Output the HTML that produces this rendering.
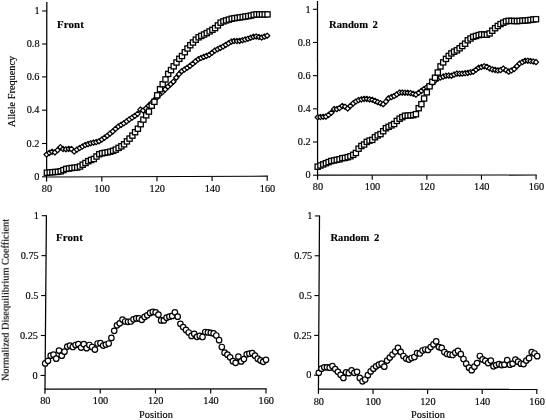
<!DOCTYPE html><html><head><meta charset="utf-8"><title>Figure</title>
<style>html,body{margin:0;padding:0;background:#fff}svg{display:block}text{font-family:"Liberation Serif",serif;fill:#000;stroke:#000;stroke-width:0.15px}</style></head><body>
<svg width="546" height="420" viewBox="0 0 546 420">
<defs><filter id="b" x="0" y="0" width="100%" height="100%" filterUnits="userSpaceOnUse" color-interpolation-filters="sRGB"><feGaussianBlur stdDeviation="0.32"/></filter></defs>
<rect width="546" height="420" fill="#fff"/>
<g filter="url(#b)">
<rect width="546" height="420" fill="#fff"/>
<g stroke="#000" stroke-width="1.25" fill="none" stroke-linecap="butt">
<path d="M46.8 2L46.59 181.6"/>
<path d="M46.1 177.0L267.90000000000003 176.2" stroke-width="1.2"/>
<path d="M42.19 11.0H46.79" stroke-width="1.1"/>
<path d="M42.15 44.0H46.75" stroke-width="1.1"/>
<path d="M42.11 76.9H46.71" stroke-width="1.1"/>
<path d="M42.08 110.2H46.68" stroke-width="1.1"/>
<path d="M42.04 143.5H46.64" stroke-width="1.1"/>
<path d="M42.00 176.8H46.60" stroke-width="1.1"/>
<path d="M101.83000000000001 176.8V181.4" stroke-width="1.15"/>
<path d="M156.96 176.6V181.2" stroke-width="1.15"/>
<path d="M212.09000000000003 176.4V181.0" stroke-width="1.15"/>
<path d="M267.22 176.2V180.8" stroke-width="1.15"/>
</g>
<text x="39.6" y="14.2" font-size="10.3" text-anchor="end">1</text>
<text x="39.6" y="47.2" font-size="10.3" text-anchor="end">0.8</text>
<text x="39.5" y="80.1" font-size="10.3" text-anchor="end">0.6</text>
<text x="39.5" y="113.4" font-size="10.3" text-anchor="end">0.4</text>
<text x="39.4" y="146.7" font-size="10.3" text-anchor="end">0.2</text>
<text x="39.4" y="180.0" font-size="10.3" text-anchor="end">0</text>
<text x="47.0" y="192.2" font-size="10.3" text-anchor="middle">80</text>
<text x="102.1" y="192.2" font-size="10.3" text-anchor="middle">100</text>
<text x="157.3" y="192.2" font-size="10.3" text-anchor="middle">120</text>
<text x="212.4" y="192.2" font-size="10.3" text-anchor="middle">140</text>
<text x="267.5" y="192.2" font-size="10.3" text-anchor="middle">160</text>
<g fill="#fff" stroke="#000" stroke-width="1.25" stroke-linejoin="round">
<path d="M44.0 154.5L46.6 151.9L49.2 154.5L46.6 157.1Z"/>
<path d="M46.8 152.9L49.4 150.3L52.0 152.9L49.4 155.5Z"/>
<path d="M49.5 151.8L52.1 149.2L54.7 151.8L52.1 154.4Z"/>
<path d="M52.3 152.4L54.9 149.8L57.5 152.4L54.9 155.0Z"/>
<path d="M55.0 150.1L57.6 147.5L60.2 150.1L57.6 152.7Z"/>
<path d="M57.8 147.2L60.4 144.6L63.0 147.2L60.4 149.8Z"/>
<path d="M60.5 149.0L63.1 146.4L65.7 149.0L63.1 151.6Z"/>
<path d="M63.3 149.2L65.9 146.6L68.5 149.2L65.9 151.8Z"/>
<path d="M66.1 148.9L68.7 146.3L71.3 148.9L68.7 151.5Z"/>
<path d="M68.8 149.0L71.4 146.4L74.0 149.0L71.4 151.6Z"/>
<path d="M71.6 151.5L74.2 148.9L76.8 151.5L74.2 154.1Z"/>
<path d="M74.3 149.6L76.9 147.0L79.5 149.6L76.9 152.2Z"/>
<path d="M77.1 148.0L79.7 145.4L82.3 148.0L79.7 150.6Z"/>
<path d="M79.8 146.5L82.4 143.9L85.0 146.5L82.4 149.1Z"/>
<path d="M82.6 145.0L85.2 142.4L87.8 145.0L85.2 147.6Z"/>
<path d="M85.4 144.1L88.0 141.5L90.6 144.1L88.0 146.7Z"/>
<path d="M88.1 143.2L90.7 140.6L93.3 143.2L90.7 145.8Z"/>
<path d="M90.9 142.6L93.5 140.0L96.1 142.6L93.5 145.2Z"/>
<path d="M93.6 142.1L96.2 139.5L98.8 142.1L96.2 144.7Z"/>
<path d="M96.4 141.2L99.0 138.6L101.6 141.2L99.0 143.8Z"/>
<path d="M99.2 139.5L101.8 136.9L104.3 139.5L101.8 142.1Z"/>
<path d="M101.9 137.8L104.5 135.2L107.1 137.8L104.5 140.4Z"/>
<path d="M104.7 135.7L107.3 133.1L109.9 135.7L107.3 138.3Z"/>
<path d="M107.4 133.6L110.0 131.0L112.6 133.6L110.0 136.2Z"/>
<path d="M110.2 131.4L112.8 128.8L115.4 131.4L112.8 134.0Z"/>
<path d="M112.9 128.9L115.5 126.3L118.1 128.9L115.5 131.5Z"/>
<path d="M115.7 126.5L118.3 123.9L120.9 126.5L118.3 129.1Z"/>
<path d="M118.5 124.9L121.1 122.3L123.7 124.9L121.1 127.5Z"/>
<path d="M121.2 123.3L123.8 120.7L126.4 123.3L123.8 125.9Z"/>
<path d="M124.0 121.4L126.6 118.8L129.2 121.4L126.6 124.0Z"/>
<path d="M126.7 119.4L129.3 116.8L131.9 119.4L129.3 122.0Z"/>
<path d="M129.5 117.6L132.1 115.0L134.7 117.6L132.1 120.2Z"/>
<path d="M132.2 115.9L134.8 113.3L137.4 115.9L134.8 118.5Z"/>
<path d="M135.0 113.9L137.6 111.3L140.2 113.9L137.6 116.5Z"/>
<path d="M137.8 109.6L140.4 107.0L143.0 109.6L140.4 112.2Z"/>
<path d="M140.5 110.5L143.1 107.9L145.7 110.5L143.1 113.1Z"/>
<path d="M143.3 108.5L145.9 105.9L148.5 108.5L145.9 111.1Z"/>
<path d="M146.0 105.8L148.6 103.2L151.2 105.8L148.6 108.4Z"/>
<path d="M148.8 103.1L151.4 100.5L154.0 103.1L151.4 105.7Z"/>
<path d="M151.5 100.4L154.1 97.8L156.7 100.4L154.1 103.0Z"/>
<path d="M154.3 97.5L156.9 94.9L159.5 97.5L156.9 100.1Z"/>
<path d="M157.1 94.3L159.7 91.7L162.3 94.3L159.7 96.9Z"/>
<path d="M159.8 92.1L162.4 89.5L165.0 92.1L162.4 94.7Z"/>
<path d="M162.6 89.4L165.2 86.8L167.8 89.4L165.2 92.0Z"/>
<path d="M165.3 86.7L167.9 84.1L170.5 86.7L167.9 89.3Z"/>
<path d="M168.1 84.2L170.7 81.6L173.3 84.2L170.7 86.8Z"/>
<path d="M170.8 81.7L173.4 79.1L176.0 81.7L173.4 84.3Z"/>
<path d="M173.6 77.7L176.2 75.1L178.8 77.7L176.2 80.3Z"/>
<path d="M176.4 74.1L179.0 71.5L181.6 74.1L179.0 76.7Z"/>
<path d="M179.1 71.2L181.7 68.6L184.3 71.2L181.7 73.8Z"/>
<path d="M181.9 69.5L184.5 66.9L187.1 69.5L184.5 72.1Z"/>
<path d="M184.6 67.8L187.2 65.2L189.8 67.8L187.2 70.4Z"/>
<path d="M187.4 65.9L190.0 63.3L192.6 65.9L190.0 68.5Z"/>
<path d="M190.1 63.8L192.7 61.2L195.3 63.8L192.7 66.4Z"/>
<path d="M192.9 61.4L195.5 58.8L198.1 61.4L195.5 64.0Z"/>
<path d="M195.7 59.2L198.3 56.6L200.9 59.2L198.3 61.8Z"/>
<path d="M198.4 58.0L201.0 55.4L203.6 58.0L201.0 60.6Z"/>
<path d="M201.2 56.9L203.8 54.3L206.4 56.9L203.8 59.5Z"/>
<path d="M203.9 55.9L206.5 53.3L209.1 55.9L206.5 58.5Z"/>
<path d="M206.7 54.8L209.3 52.2L211.9 54.8L209.3 57.4Z"/>
<path d="M209.4 52.8L212.0 50.2L214.6 52.8L212.0 55.4Z"/>
<path d="M212.2 50.6L214.8 48.0L217.4 50.6L214.8 53.2Z"/>
<path d="M215.0 49.2L217.6 46.6L220.2 49.2L217.6 51.8Z"/>
<path d="M217.7 47.9L220.3 45.3L222.9 47.9L220.3 50.5Z"/>
<path d="M220.5 46.5L223.1 43.9L225.7 46.5L223.1 49.1Z"/>
<path d="M223.2 44.9L225.8 42.3L228.4 44.9L225.8 47.5Z"/>
<path d="M226.0 43.3L228.6 40.7L231.2 43.3L228.6 45.9Z"/>
<path d="M228.8 41.6L231.4 39.0L234.0 41.6L231.4 44.2Z"/>
<path d="M231.5 41.0L234.1 38.4L236.7 41.0L234.1 43.6Z"/>
<path d="M234.3 41.0L236.9 38.4L239.5 41.0L236.9 43.6Z"/>
<path d="M237.0 40.9L239.6 38.3L242.2 40.9L239.6 43.5Z"/>
<path d="M239.8 40.2L242.4 37.6L245.0 40.2L242.4 42.8Z"/>
<path d="M242.5 39.5L245.1 36.9L247.7 39.5L245.1 42.1Z"/>
<path d="M245.3 38.7L247.9 36.1L250.5 38.7L247.9 41.3Z"/>
<path d="M248.1 37.7L250.7 35.1L253.3 37.7L250.7 40.3Z"/>
<path d="M250.8 36.8L253.4 34.2L256.0 36.8L253.4 39.4Z"/>
<path d="M253.6 36.5L256.2 33.9L258.8 36.5L256.2 39.1Z"/>
<path d="M256.3 37.0L258.9 34.4L261.5 37.0L258.9 39.6Z"/>
<path d="M259.1 37.5L261.7 34.9L264.3 37.5L261.7 40.1Z"/>
<path d="M261.8 36.6L264.4 34.0L267.0 36.6L264.4 39.2Z"/>
<path d="M264.6 35.7L267.2 33.1L269.8 35.7L267.2 38.3Z"/>
</g>
<g fill="#fff" stroke="#000" stroke-width="1.3">
<rect x="44.3" y="170.1" width="5.2" height="5.2"/>
<rect x="47.1" y="169.8" width="5.2" height="5.2"/>
<rect x="49.8" y="169.6" width="5.2" height="5.2"/>
<rect x="52.6" y="169.4" width="5.2" height="5.2"/>
<rect x="55.3" y="169.2" width="5.2" height="5.2"/>
<rect x="58.1" y="168.7" width="5.2" height="5.2"/>
<rect x="60.8" y="167.5" width="5.2" height="5.2"/>
<rect x="63.6" y="166.3" width="5.2" height="5.2"/>
<rect x="66.4" y="165.9" width="5.2" height="5.2"/>
<rect x="69.1" y="165.4" width="5.2" height="5.2"/>
<rect x="71.9" y="165.1" width="5.2" height="5.2"/>
<rect x="74.6" y="164.9" width="5.2" height="5.2"/>
<rect x="77.4" y="163.9" width="5.2" height="5.2"/>
<rect x="80.1" y="162.1" width="5.2" height="5.2"/>
<rect x="82.9" y="160.4" width="5.2" height="5.2"/>
<rect x="85.7" y="158.6" width="5.2" height="5.2"/>
<rect x="88.4" y="157.4" width="5.2" height="5.2"/>
<rect x="91.2" y="156.4" width="5.2" height="5.2"/>
<rect x="93.9" y="153.9" width="5.2" height="5.2"/>
<rect x="96.7" y="151.6" width="5.2" height="5.2"/>
<rect x="99.5" y="150.7" width="5.2" height="5.2"/>
<rect x="102.2" y="150.2" width="5.2" height="5.2"/>
<rect x="105.0" y="149.7" width="5.2" height="5.2"/>
<rect x="107.7" y="149.1" width="5.2" height="5.2"/>
<rect x="110.5" y="148.2" width="5.2" height="5.2"/>
<rect x="113.2" y="147.0" width="5.2" height="5.2"/>
<rect x="116.0" y="145.3" width="5.2" height="5.2"/>
<rect x="118.8" y="143.7" width="5.2" height="5.2"/>
<rect x="121.5" y="141.7" width="5.2" height="5.2"/>
<rect x="124.3" y="138.8" width="5.2" height="5.2"/>
<rect x="127.0" y="136.0" width="5.2" height="5.2"/>
<rect x="129.8" y="133.0" width="5.2" height="5.2"/>
<rect x="132.5" y="129.6" width="5.2" height="5.2"/>
<rect x="135.3" y="126.1" width="5.2" height="5.2"/>
<rect x="138.1" y="121.6" width="5.2" height="5.2"/>
<rect x="140.8" y="117.0" width="5.2" height="5.2"/>
<rect x="143.6" y="112.7" width="5.2" height="5.2"/>
<rect x="146.3" y="109.0" width="5.2" height="5.2"/>
<rect x="149.1" y="103.1" width="5.2" height="5.2"/>
<rect x="151.8" y="99.2" width="5.2" height="5.2"/>
<rect x="154.6" y="92.7" width="5.2" height="5.2"/>
<rect x="157.4" y="86.6" width="5.2" height="5.2"/>
<rect x="160.1" y="81.6" width="5.2" height="5.2"/>
<rect x="162.9" y="76.8" width="5.2" height="5.2"/>
<rect x="165.6" y="71.3" width="5.2" height="5.2"/>
<rect x="168.4" y="67.5" width="5.2" height="5.2"/>
<rect x="171.1" y="63.7" width="5.2" height="5.2"/>
<rect x="173.9" y="59.9" width="5.2" height="5.2"/>
<rect x="176.7" y="56.2" width="5.2" height="5.2"/>
<rect x="179.4" y="53.4" width="5.2" height="5.2"/>
<rect x="182.2" y="49.6" width="5.2" height="5.2"/>
<rect x="184.9" y="45.9" width="5.2" height="5.2"/>
<rect x="187.7" y="42.6" width="5.2" height="5.2"/>
<rect x="190.4" y="39.9" width="5.2" height="5.2"/>
<rect x="193.2" y="37.1" width="5.2" height="5.2"/>
<rect x="196.0" y="34.7" width="5.2" height="5.2"/>
<rect x="198.7" y="33.3" width="5.2" height="5.2"/>
<rect x="201.5" y="31.9" width="5.2" height="5.2"/>
<rect x="204.2" y="30.5" width="5.2" height="5.2"/>
<rect x="207.0" y="28.8" width="5.2" height="5.2"/>
<rect x="209.8" y="27.2" width="5.2" height="5.2"/>
<rect x="212.5" y="25.5" width="5.2" height="5.2"/>
<rect x="215.3" y="22.8" width="5.2" height="5.2"/>
<rect x="218.0" y="20.1" width="5.2" height="5.2"/>
<rect x="220.8" y="18.8" width="5.2" height="5.2"/>
<rect x="223.5" y="17.8" width="5.2" height="5.2"/>
<rect x="226.3" y="17.0" width="5.2" height="5.2"/>
<rect x="229.1" y="16.1" width="5.2" height="5.2"/>
<rect x="231.8" y="15.6" width="5.2" height="5.2"/>
<rect x="234.6" y="15.2" width="5.2" height="5.2"/>
<rect x="237.3" y="14.8" width="5.2" height="5.2"/>
<rect x="240.1" y="14.4" width="5.2" height="5.2"/>
<rect x="242.8" y="13.9" width="5.2" height="5.2"/>
<rect x="245.6" y="13.5" width="5.2" height="5.2"/>
<rect x="248.4" y="13.0" width="5.2" height="5.2"/>
<rect x="251.1" y="12.2" width="5.2" height="5.2"/>
<rect x="253.9" y="11.8" width="5.2" height="5.2"/>
<rect x="256.6" y="11.8" width="5.2" height="5.2"/>
<rect x="259.4" y="11.8" width="5.2" height="5.2"/>
<rect x="262.1" y="11.8" width="5.2" height="5.2"/>
<rect x="264.9" y="11.8" width="5.2" height="5.2"/>
</g>
<text x="57" y="27.8" font-size="10.9" font-weight="bold" letter-spacing="0.1">Front</text>
<text transform="translate(15.3 91.4) rotate(-90)" font-size="10.3" text-anchor="middle">Allele Frequency</text>
<g stroke="#000" stroke-width="1.25" fill="none" stroke-linecap="butt">
<path d="M317.5 1L317.60 179.8"/>
<path d="M317.1 175.2L536.7 175.0" stroke-width="1.2"/>
<path d="M312.90 9.3H317.50" stroke-width="1.1"/>
<path d="M312.92 42.480000000000004H317.52" stroke-width="1.1"/>
<path d="M312.94 75.66H317.54" stroke-width="1.1"/>
<path d="M312.96 108.83999999999999H317.56" stroke-width="1.1"/>
<path d="M312.98 142.02H317.58" stroke-width="1.1"/>
<path d="M313.00 175.20000000000002H317.60" stroke-width="1.1"/>
<path d="M372.22 175.2V179.8" stroke-width="1.15"/>
<path d="M426.84000000000003 175.1V179.7" stroke-width="1.15"/>
<path d="M481.46000000000004 175.1V179.7" stroke-width="1.15"/>
<path d="M536.08 175.0V179.6" stroke-width="1.15"/>
</g>
<text x="310.6" y="12.5" font-size="10.3" text-anchor="end">1</text>
<text x="310.6" y="45.7" font-size="10.3" text-anchor="end">0.8</text>
<text x="310.6" y="78.9" font-size="10.3" text-anchor="end">0.6</text>
<text x="310.7" y="112.0" font-size="10.3" text-anchor="end">0.4</text>
<text x="310.7" y="145.2" font-size="10.3" text-anchor="end">0.2</text>
<text x="310.7" y="178.4" font-size="10.3" text-anchor="end">0</text>
<text x="317.9" y="189.8" font-size="10.3" text-anchor="middle">80</text>
<text x="372.5" y="189.8" font-size="10.3" text-anchor="middle">100</text>
<text x="427.1" y="189.8" font-size="10.3" text-anchor="middle">120</text>
<text x="481.8" y="189.8" font-size="10.3" text-anchor="middle">140</text>
<text x="536.4" y="189.8" font-size="10.3" text-anchor="middle">160</text>
<g fill="#fff" stroke="#000" stroke-width="1.25" stroke-linejoin="round">
<path d="M315.1 117.2L317.7 114.6L320.3 117.2L317.7 119.8Z"/>
<path d="M317.8 117.0L320.4 114.4L323.0 117.0L320.4 119.6Z"/>
<path d="M320.6 116.8L323.2 114.2L325.8 116.8L323.2 119.4Z"/>
<path d="M323.3 116.6L325.9 114.0L328.5 116.6L325.9 119.2Z"/>
<path d="M326.0 114.9L328.6 112.3L331.2 114.9L328.6 117.5Z"/>
<path d="M328.7 112.8L331.3 110.2L333.9 112.8L331.3 115.4Z"/>
<path d="M331.5 109.1L334.1 106.5L336.7 109.1L334.1 111.7Z"/>
<path d="M334.2 109.1L336.8 106.5L339.4 109.1L336.8 111.7Z"/>
<path d="M336.9 108.0L339.5 105.4L342.1 108.0L339.5 110.6Z"/>
<path d="M339.7 106.0L342.3 103.4L344.9 106.0L342.3 108.6Z"/>
<path d="M342.4 106.7L345.0 104.1L347.6 106.7L345.0 109.3Z"/>
<path d="M345.1 108.5L347.7 105.9L350.3 108.5L347.7 111.1Z"/>
<path d="M347.8 105.9L350.4 103.3L353.0 105.9L350.4 108.5Z"/>
<path d="M350.6 103.4L353.2 100.8L355.8 103.4L353.2 106.0Z"/>
<path d="M353.3 101.5L355.9 98.9L358.5 101.5L355.9 104.1Z"/>
<path d="M356.0 100.1L358.6 97.5L361.2 100.1L358.6 102.7Z"/>
<path d="M358.8 99.4L361.4 96.8L364.0 99.4L361.4 102.0Z"/>
<path d="M361.5 98.9L364.1 96.3L366.7 98.9L364.1 101.5Z"/>
<path d="M364.2 98.9L366.8 96.3L369.4 98.9L366.8 101.5Z"/>
<path d="M366.9 99.4L369.5 96.8L372.1 99.4L369.5 102.0Z"/>
<path d="M369.7 99.8L372.3 97.2L374.9 99.8L372.3 102.4Z"/>
<path d="M372.4 100.9L375.0 98.3L377.6 100.9L375.0 103.5Z"/>
<path d="M375.1 102.1L377.7 99.5L380.3 102.1L377.7 104.7Z"/>
<path d="M377.9 103.2L380.5 100.6L383.1 103.2L380.5 105.8Z"/>
<path d="M380.6 104.2L383.2 101.6L385.8 104.2L383.2 106.8Z"/>
<path d="M383.3 101.6L385.9 99.0L388.5 101.6L385.9 104.2Z"/>
<path d="M386.0 98.3L388.6 95.7L391.2 98.3L388.6 100.9Z"/>
<path d="M388.8 97.1L391.4 94.5L394.0 97.1L391.4 99.7Z"/>
<path d="M391.5 96.0L394.1 93.4L396.7 96.0L394.1 98.6Z"/>
<path d="M394.2 94.4L396.8 91.8L399.4 94.4L396.8 97.0Z"/>
<path d="M397.0 92.6L399.6 90.0L402.2 92.6L399.6 95.2Z"/>
<path d="M399.7 92.6L402.3 90.0L404.9 92.6L402.3 95.2Z"/>
<path d="M402.4 92.7L405.0 90.1L407.6 92.7L405.0 95.3Z"/>
<path d="M405.1 92.8L407.7 90.2L410.3 92.8L407.7 95.4Z"/>
<path d="M407.9 93.1L410.5 90.5L413.1 93.1L410.5 95.7Z"/>
<path d="M410.6 93.8L413.2 91.2L415.8 93.8L413.2 96.4Z"/>
<path d="M413.3 94.6L415.9 92.0L418.5 94.6L415.9 97.2Z"/>
<path d="M416.1 92.8L418.7 90.2L421.3 92.8L418.7 95.4Z"/>
<path d="M418.8 90.9L421.4 88.3L424.0 90.9L421.4 93.5Z"/>
<path d="M421.5 89.0L424.1 86.4L426.7 89.0L424.1 91.6Z"/>
<path d="M424.2 87.2L426.8 84.6L429.4 87.2L426.8 89.8Z"/>
<path d="M427.0 85.2L429.6 82.6L432.2 85.2L429.6 87.8Z"/>
<path d="M429.7 83.0L432.3 80.4L434.9 83.0L432.3 85.6Z"/>
<path d="M432.4 80.8L435.0 78.2L437.6 80.8L435.0 83.4Z"/>
<path d="M435.2 78.6L437.8 76.0L440.4 78.6L437.8 81.2Z"/>
<path d="M437.9 77.5L440.5 74.9L443.1 77.5L440.5 80.1Z"/>
<path d="M440.6 76.6L443.2 74.0L445.8 76.6L443.2 79.2Z"/>
<path d="M443.4 75.7L446.0 73.1L448.6 75.7L446.0 78.3Z"/>
<path d="M446.1 75.6L448.7 73.0L451.3 75.6L448.7 78.2Z"/>
<path d="M448.8 75.7L451.4 73.1L454.0 75.7L451.4 78.3Z"/>
<path d="M451.5 74.6L454.1 72.0L456.7 74.6L454.1 77.2Z"/>
<path d="M454.3 73.6L456.9 71.0L459.5 73.6L456.9 76.2Z"/>
<path d="M457.0 73.7L459.6 71.1L462.2 73.7L459.6 76.3Z"/>
<path d="M459.7 73.6L462.3 71.0L464.9 73.6L462.3 76.2Z"/>
<path d="M462.5 73.3L465.1 70.7L467.7 73.3L465.1 75.9Z"/>
<path d="M465.2 72.9L467.8 70.3L470.4 72.9L467.8 75.5Z"/>
<path d="M467.9 72.2L470.5 69.6L473.1 72.2L470.5 74.8Z"/>
<path d="M470.6 71.8L473.2 69.2L475.8 71.8L473.2 74.4Z"/>
<path d="M473.4 69.8L476.0 67.2L478.6 69.8L476.0 72.4Z"/>
<path d="M476.1 67.8L478.7 65.2L481.3 67.8L478.7 70.4Z"/>
<path d="M478.8 67.0L481.4 64.4L484.0 67.0L481.4 69.6Z"/>
<path d="M481.6 66.2L484.2 63.6L486.8 66.2L484.2 68.8Z"/>
<path d="M484.3 66.9L486.9 64.3L489.5 66.9L486.9 69.5Z"/>
<path d="M487.0 68.4L489.6 65.8L492.2 68.4L489.6 71.0Z"/>
<path d="M489.7 69.4L492.3 66.8L494.9 69.4L492.3 72.0Z"/>
<path d="M492.5 69.9L495.1 67.3L497.7 69.9L495.1 72.5Z"/>
<path d="M495.2 70.4L497.8 67.8L500.4 70.4L497.8 73.0Z"/>
<path d="M497.9 70.1L500.5 67.5L503.1 70.1L500.5 72.7Z"/>
<path d="M500.7 68.6L503.3 66.0L505.9 68.6L503.3 71.2Z"/>
<path d="M503.4 70.2L506.0 67.6L508.6 70.2L506.0 72.8Z"/>
<path d="M506.1 71.6L508.7 69.0L511.3 71.6L508.7 74.2Z"/>
<path d="M508.8 70.5L511.4 67.9L514.0 70.5L511.4 73.1Z"/>
<path d="M511.6 69.0L514.2 66.4L516.8 69.0L514.2 71.6Z"/>
<path d="M514.3 66.2L516.9 63.6L519.5 66.2L516.9 68.8Z"/>
<path d="M517.0 63.5L519.6 60.9L522.2 63.5L519.6 66.1Z"/>
<path d="M519.8 62.1L522.4 59.5L525.0 62.1L522.4 64.7Z"/>
<path d="M522.5 60.8L525.1 58.2L527.7 60.8L525.1 63.4Z"/>
<path d="M525.2 60.7L527.8 58.1L530.4 60.7L527.8 63.3Z"/>
<path d="M527.9 61.0L530.5 58.4L533.1 61.0L530.5 63.6Z"/>
<path d="M530.7 61.5L533.3 58.9L535.9 61.5L533.3 64.1Z"/>
<path d="M533.4 62.1L536.0 59.5L538.6 62.1L536.0 64.7Z"/>
</g>
<g fill="#fff" stroke="#000" stroke-width="1.3">
<rect x="315.1" y="164.1" width="5.2" height="5.2"/>
<rect x="317.8" y="162.9" width="5.2" height="5.2"/>
<rect x="320.6" y="161.8" width="5.2" height="5.2"/>
<rect x="323.3" y="160.6" width="5.2" height="5.2"/>
<rect x="326.0" y="159.5" width="5.2" height="5.2"/>
<rect x="328.7" y="158.4" width="5.2" height="5.2"/>
<rect x="331.5" y="157.8" width="5.2" height="5.2"/>
<rect x="334.2" y="157.2" width="5.2" height="5.2"/>
<rect x="336.9" y="156.7" width="5.2" height="5.2"/>
<rect x="339.7" y="155.6" width="5.2" height="5.2"/>
<rect x="342.4" y="155.3" width="5.2" height="5.2"/>
<rect x="345.1" y="154.6" width="5.2" height="5.2"/>
<rect x="347.8" y="153.7" width="5.2" height="5.2"/>
<rect x="350.6" y="152.2" width="5.2" height="5.2"/>
<rect x="353.3" y="150.4" width="5.2" height="5.2"/>
<rect x="356.0" y="146.1" width="5.2" height="5.2"/>
<rect x="358.8" y="143.4" width="5.2" height="5.2"/>
<rect x="361.5" y="141.9" width="5.2" height="5.2"/>
<rect x="364.2" y="139.3" width="5.2" height="5.2"/>
<rect x="366.9" y="138.0" width="5.2" height="5.2"/>
<rect x="369.7" y="137.3" width="5.2" height="5.2"/>
<rect x="372.4" y="134.6" width="5.2" height="5.2"/>
<rect x="375.1" y="132.8" width="5.2" height="5.2"/>
<rect x="377.9" y="131.5" width="5.2" height="5.2"/>
<rect x="380.6" y="128.6" width="5.2" height="5.2"/>
<rect x="383.3" y="125.6" width="5.2" height="5.2"/>
<rect x="386.0" y="124.2" width="5.2" height="5.2"/>
<rect x="388.8" y="122.8" width="5.2" height="5.2"/>
<rect x="391.5" y="121.4" width="5.2" height="5.2"/>
<rect x="394.2" y="118.3" width="5.2" height="5.2"/>
<rect x="397.0" y="116.1" width="5.2" height="5.2"/>
<rect x="399.7" y="114.6" width="5.2" height="5.2"/>
<rect x="402.4" y="113.2" width="5.2" height="5.2"/>
<rect x="405.1" y="112.9" width="5.2" height="5.2"/>
<rect x="407.9" y="112.8" width="5.2" height="5.2"/>
<rect x="410.6" y="112.5" width="5.2" height="5.2"/>
<rect x="413.3" y="111.6" width="5.2" height="5.2"/>
<rect x="416.1" y="105.6" width="5.2" height="5.2"/>
<rect x="418.8" y="101.6" width="5.2" height="5.2"/>
<rect x="421.5" y="95.9" width="5.2" height="5.2"/>
<rect x="424.2" y="89.7" width="5.2" height="5.2"/>
<rect x="427.0" y="83.7" width="5.2" height="5.2"/>
<rect x="429.7" y="79.2" width="5.2" height="5.2"/>
<rect x="432.4" y="75.1" width="5.2" height="5.2"/>
<rect x="435.2" y="69.9" width="5.2" height="5.2"/>
<rect x="437.9" y="63.8" width="5.2" height="5.2"/>
<rect x="440.6" y="59.8" width="5.2" height="5.2"/>
<rect x="443.4" y="56.3" width="5.2" height="5.2"/>
<rect x="446.1" y="53.3" width="5.2" height="5.2"/>
<rect x="448.8" y="50.8" width="5.2" height="5.2"/>
<rect x="451.5" y="49.1" width="5.2" height="5.2"/>
<rect x="454.3" y="47.7" width="5.2" height="5.2"/>
<rect x="457.0" y="45.7" width="5.2" height="5.2"/>
<rect x="459.7" y="43.4" width="5.2" height="5.2"/>
<rect x="462.5" y="41.1" width="5.2" height="5.2"/>
<rect x="465.2" y="37.7" width="5.2" height="5.2"/>
<rect x="467.9" y="35.9" width="5.2" height="5.2"/>
<rect x="470.6" y="34.2" width="5.2" height="5.2"/>
<rect x="473.4" y="33.4" width="5.2" height="5.2"/>
<rect x="476.1" y="32.5" width="5.2" height="5.2"/>
<rect x="478.8" y="31.8" width="5.2" height="5.2"/>
<rect x="481.6" y="32.0" width="5.2" height="5.2"/>
<rect x="484.3" y="32.1" width="5.2" height="5.2"/>
<rect x="487.0" y="30.8" width="5.2" height="5.2"/>
<rect x="489.7" y="28.1" width="5.2" height="5.2"/>
<rect x="492.5" y="25.6" width="5.2" height="5.2"/>
<rect x="495.2" y="23.4" width="5.2" height="5.2"/>
<rect x="497.9" y="21.5" width="5.2" height="5.2"/>
<rect x="500.7" y="20.1" width="5.2" height="5.2"/>
<rect x="503.4" y="18.8" width="5.2" height="5.2"/>
<rect x="506.1" y="18.2" width="5.2" height="5.2"/>
<rect x="508.8" y="18.3" width="5.2" height="5.2"/>
<rect x="511.6" y="18.4" width="5.2" height="5.2"/>
<rect x="514.3" y="18.5" width="5.2" height="5.2"/>
<rect x="517.0" y="18.3" width="5.2" height="5.2"/>
<rect x="519.8" y="18.1" width="5.2" height="5.2"/>
<rect x="522.5" y="17.9" width="5.2" height="5.2"/>
<rect x="525.2" y="17.7" width="5.2" height="5.2"/>
<rect x="527.9" y="17.3" width="5.2" height="5.2"/>
<rect x="530.7" y="16.9" width="5.2" height="5.2"/>
<rect x="533.4" y="16.6" width="5.2" height="5.2"/>
</g>
<text x="329.0" y="27.5" font-size="10.65" font-weight="bold" style="word-spacing:1.8px">Random 2</text>
<g stroke="#000" stroke-width="1.25" fill="none" stroke-linecap="butt">
<path d="M46.4 215.2L44.96 393.7"/>
<path d="M44.5 389.1L266.6 388.8" stroke-width="1.2"/>
<path d="M41.80 215.7H46.40" stroke-width="1.1"/>
<path d="M41.47 255.63H46.07" stroke-width="1.1"/>
<path d="M41.15 295.56H45.75" stroke-width="1.1"/>
<path d="M40.83 335.49H45.43" stroke-width="1.1"/>
<path d="M40.51 375.41999999999996H45.11" stroke-width="1.1"/>
<path d="M100.24000000000001 389.0V393.6" stroke-width="1.15"/>
<path d="M155.48000000000002 389.0V393.6" stroke-width="1.15"/>
<path d="M210.72 388.9V393.5" stroke-width="1.15"/>
<path d="M265.96000000000004 388.8V393.4" stroke-width="1.15"/>
</g>
<text x="39.0" y="218.9" font-size="10.3" text-anchor="end">1</text>
<text x="38.7" y="258.8" font-size="10.3" text-anchor="end">0.75</text>
<text x="38.4" y="298.8" font-size="10.3" text-anchor="end">0.5</text>
<text x="38.0" y="338.7" font-size="10.3" text-anchor="end">0.25</text>
<text x="37.7" y="378.6" font-size="10.3" text-anchor="end">0</text>
<text x="45.3" y="404.4" font-size="10.3" text-anchor="middle">80</text>
<text x="100.5" y="404.4" font-size="10.3" text-anchor="middle">100</text>
<text x="155.8" y="404.4" font-size="10.3" text-anchor="middle">120</text>
<text x="211.0" y="404.4" font-size="10.3" text-anchor="middle">140</text>
<text x="266.3" y="404.4" font-size="10.3" text-anchor="middle">160</text>
<g fill="#fff" stroke="#000" stroke-width="1.2">
<circle cx="45.2" cy="363.4" r="2.75"/>
<circle cx="48.0" cy="360.8" r="2.75"/>
<circle cx="50.7" cy="355.7" r="2.75"/>
<circle cx="53.5" cy="354.7" r="2.75"/>
<circle cx="56.2" cy="358.7" r="2.75"/>
<circle cx="59.0" cy="350.6" r="2.75"/>
<circle cx="61.8" cy="355.7" r="2.75"/>
<circle cx="64.5" cy="351.7" r="2.75"/>
<circle cx="67.3" cy="346.6" r="2.75"/>
<circle cx="70.0" cy="345.6" r="2.75"/>
<circle cx="72.8" cy="347.0" r="2.75"/>
<circle cx="75.6" cy="345.0" r="2.75"/>
<circle cx="78.3" cy="344.2" r="2.75"/>
<circle cx="81.1" cy="347.6" r="2.75"/>
<circle cx="83.8" cy="344.2" r="2.75"/>
<circle cx="86.6" cy="348.2" r="2.75"/>
<circle cx="89.4" cy="345.0" r="2.75"/>
<circle cx="92.1" cy="347.0" r="2.75"/>
<circle cx="94.9" cy="349.6" r="2.75"/>
<circle cx="97.6" cy="343.5" r="2.75"/>
<circle cx="100.4" cy="343.1" r="2.75"/>
<circle cx="103.2" cy="345.6" r="2.75"/>
<circle cx="105.9" cy="344.6" r="2.75"/>
<circle cx="108.7" cy="343.5" r="2.75"/>
<circle cx="111.4" cy="337.9" r="2.75"/>
<circle cx="114.2" cy="330.8" r="2.75"/>
<circle cx="117.0" cy="325.3" r="2.75"/>
<circle cx="119.7" cy="323.3" r="2.75"/>
<circle cx="122.5" cy="319.6" r="2.75"/>
<circle cx="125.2" cy="321.5" r="2.75"/>
<circle cx="128.0" cy="321.8" r="2.75"/>
<circle cx="130.8" cy="321.5" r="2.75"/>
<circle cx="133.5" cy="319.3" r="2.75"/>
<circle cx="136.3" cy="318.4" r="2.75"/>
<circle cx="139.0" cy="318.4" r="2.75"/>
<circle cx="141.8" cy="319.8" r="2.75"/>
<circle cx="144.6" cy="316.9" r="2.75"/>
<circle cx="147.3" cy="315.3" r="2.75"/>
<circle cx="150.1" cy="312.9" r="2.75"/>
<circle cx="152.8" cy="311.9" r="2.75"/>
<circle cx="155.6" cy="312.3" r="2.75"/>
<circle cx="158.4" cy="314.7" r="2.75"/>
<circle cx="161.1" cy="320.4" r="2.75"/>
<circle cx="163.9" cy="320.4" r="2.75"/>
<circle cx="166.6" cy="317.7" r="2.75"/>
<circle cx="169.4" cy="316.7" r="2.75"/>
<circle cx="172.2" cy="315.9" r="2.75"/>
<circle cx="174.9" cy="312.3" r="2.75"/>
<circle cx="177.7" cy="316.7" r="2.75"/>
<circle cx="180.4" cy="323.8" r="2.75"/>
<circle cx="183.2" cy="327.1" r="2.75"/>
<circle cx="186.0" cy="329.9" r="2.75"/>
<circle cx="188.7" cy="332.5" r="2.75"/>
<circle cx="191.5" cy="335.9" r="2.75"/>
<circle cx="194.2" cy="333.8" r="2.75"/>
<circle cx="197.0" cy="336.8" r="2.75"/>
<circle cx="199.8" cy="335.9" r="2.75"/>
<circle cx="202.5" cy="337.0" r="2.75"/>
<circle cx="205.3" cy="332.0" r="2.75"/>
<circle cx="208.0" cy="332.4" r="2.75"/>
<circle cx="210.8" cy="332.8" r="2.75"/>
<circle cx="213.6" cy="333.4" r="2.75"/>
<circle cx="216.3" cy="335.5" r="2.75"/>
<circle cx="219.1" cy="340.2" r="2.75"/>
<circle cx="221.8" cy="347.0" r="2.75"/>
<circle cx="224.6" cy="352.7" r="2.75"/>
<circle cx="227.4" cy="354.7" r="2.75"/>
<circle cx="230.1" cy="357.3" r="2.75"/>
<circle cx="232.9" cy="361.2" r="2.75"/>
<circle cx="235.6" cy="362.8" r="2.75"/>
<circle cx="238.4" cy="356.7" r="2.75"/>
<circle cx="241.2" cy="361.4" r="2.75"/>
<circle cx="243.9" cy="359.1" r="2.75"/>
<circle cx="246.7" cy="354.3" r="2.75"/>
<circle cx="249.4" cy="353.7" r="2.75"/>
<circle cx="252.2" cy="353.1" r="2.75"/>
<circle cx="255.0" cy="355.7" r="2.75"/>
<circle cx="257.7" cy="358.7" r="2.75"/>
<circle cx="260.5" cy="360.4" r="2.75"/>
<circle cx="263.2" cy="361.8" r="2.75"/>
<circle cx="266.0" cy="359.8" r="2.75"/>
</g>
<text x="56.0" y="241.1" font-size="10.9" font-weight="bold" letter-spacing="0.1">Front</text>
<text x="156" y="417.8" font-size="10.3" text-anchor="middle">Position</text>
<text transform="translate(8.7 300) rotate(-90)" font-size="10.3" text-anchor="middle">Normalized Disequilibrium Coefficient</text>
<g stroke="#000" stroke-width="1.25" fill="none" stroke-linecap="butt">
<path d="M319.5 215.4L318.42 393.8"/>
<path d="M317.95 389.2L537.4 389.4" stroke-width="1.2"/>
<path d="M314.90 215.95H319.50" stroke-width="1.1"/>
<path d="M314.66 255.76H319.26" stroke-width="1.1"/>
<path d="M314.42 295.57H319.02" stroke-width="1.1"/>
<path d="M314.18 335.38H318.78" stroke-width="1.1"/>
<path d="M313.93 375.19H318.53" stroke-width="1.1"/>
<path d="M373.03999999999996 389.3V393.9" stroke-width="1.15"/>
<path d="M427.63 389.3V393.9" stroke-width="1.15"/>
<path d="M482.22 389.4V394.0" stroke-width="1.15"/>
<path d="M536.81 389.4V394.0" stroke-width="1.15"/>
</g>
<text x="312.4" y="219.1" font-size="10.3" text-anchor="end">1</text>
<text x="312.2" y="259.0" font-size="10.3" text-anchor="end">0.75</text>
<text x="311.9" y="298.8" font-size="10.3" text-anchor="end">0.5</text>
<text x="311.7" y="338.6" font-size="10.3" text-anchor="end">0.25</text>
<text x="311.4" y="378.4" font-size="10.3" text-anchor="end">0</text>
<text x="318.8" y="404.7" font-size="10.3" text-anchor="middle">80</text>
<text x="373.3" y="404.7" font-size="10.3" text-anchor="middle">100</text>
<text x="427.9" y="404.7" font-size="10.3" text-anchor="middle">120</text>
<text x="482.5" y="404.7" font-size="10.3" text-anchor="middle">140</text>
<text x="537.1" y="404.7" font-size="10.3" text-anchor="middle">160</text>
<g fill="#fff" stroke="#000" stroke-width="1.2">
<circle cx="318.8" cy="372.8" r="2.75"/>
<circle cx="321.5" cy="368.7" r="2.75"/>
<circle cx="324.3" cy="367.3" r="2.75"/>
<circle cx="327.0" cy="367.3" r="2.75"/>
<circle cx="329.7" cy="367.7" r="2.75"/>
<circle cx="332.4" cy="366.1" r="2.75"/>
<circle cx="335.2" cy="369.1" r="2.75"/>
<circle cx="337.9" cy="371.8" r="2.75"/>
<circle cx="340.6" cy="374.8" r="2.75"/>
<circle cx="343.4" cy="377.9" r="2.75"/>
<circle cx="346.1" cy="372.4" r="2.75"/>
<circle cx="348.8" cy="373.2" r="2.75"/>
<circle cx="351.6" cy="370.4" r="2.75"/>
<circle cx="354.3" cy="372.8" r="2.75"/>
<circle cx="357.0" cy="371.8" r="2.75"/>
<circle cx="359.8" cy="377.9" r="2.75"/>
<circle cx="362.5" cy="381.3" r="2.75"/>
<circle cx="365.2" cy="379.5" r="2.75"/>
<circle cx="367.9" cy="375.2" r="2.75"/>
<circle cx="370.7" cy="371.4" r="2.75"/>
<circle cx="373.4" cy="368.7" r="2.75"/>
<circle cx="376.1" cy="366.3" r="2.75"/>
<circle cx="378.9" cy="364.7" r="2.75"/>
<circle cx="381.6" cy="363.7" r="2.75"/>
<circle cx="384.3" cy="366.7" r="2.75"/>
<circle cx="387.1" cy="360.6" r="2.75"/>
<circle cx="389.8" cy="357.6" r="2.75"/>
<circle cx="392.5" cy="354.6" r="2.75"/>
<circle cx="395.2" cy="351.5" r="2.75"/>
<circle cx="398.0" cy="347.9" r="2.75"/>
<circle cx="400.7" cy="351.9" r="2.75"/>
<circle cx="403.4" cy="356.0" r="2.75"/>
<circle cx="406.2" cy="358.6" r="2.75"/>
<circle cx="408.9" cy="359.6" r="2.75"/>
<circle cx="411.6" cy="358.0" r="2.75"/>
<circle cx="414.4" cy="357.0" r="2.75"/>
<circle cx="417.1" cy="353.1" r="2.75"/>
<circle cx="419.8" cy="353.5" r="2.75"/>
<circle cx="422.5" cy="350.5" r="2.75"/>
<circle cx="425.3" cy="349.5" r="2.75"/>
<circle cx="428.0" cy="349.9" r="2.75"/>
<circle cx="430.7" cy="347.1" r="2.75"/>
<circle cx="433.5" cy="344.4" r="2.75"/>
<circle cx="436.2" cy="341.4" r="2.75"/>
<circle cx="438.9" cy="347.1" r="2.75"/>
<circle cx="441.7" cy="347.9" r="2.75"/>
<circle cx="444.4" cy="352.1" r="2.75"/>
<circle cx="447.1" cy="354.0" r="2.75"/>
<circle cx="449.8" cy="354.6" r="2.75"/>
<circle cx="452.6" cy="355.0" r="2.75"/>
<circle cx="455.3" cy="352.7" r="2.75"/>
<circle cx="458.0" cy="350.9" r="2.75"/>
<circle cx="460.8" cy="354.2" r="2.75"/>
<circle cx="463.5" cy="359.0" r="2.75"/>
<circle cx="466.2" cy="363.7" r="2.75"/>
<circle cx="469.0" cy="367.7" r="2.75"/>
<circle cx="471.7" cy="370.2" r="2.75"/>
<circle cx="474.4" cy="366.7" r="2.75"/>
<circle cx="477.1" cy="363.1" r="2.75"/>
<circle cx="479.9" cy="356.0" r="2.75"/>
<circle cx="482.6" cy="359.4" r="2.75"/>
<circle cx="485.3" cy="360.8" r="2.75"/>
<circle cx="488.1" cy="363.1" r="2.75"/>
<circle cx="490.8" cy="360.6" r="2.75"/>
<circle cx="493.5" cy="366.3" r="2.75"/>
<circle cx="496.2" cy="365.1" r="2.75"/>
<circle cx="499.0" cy="364.1" r="2.75"/>
<circle cx="501.7" cy="365.1" r="2.75"/>
<circle cx="504.4" cy="364.7" r="2.75"/>
<circle cx="507.2" cy="360.2" r="2.75"/>
<circle cx="509.9" cy="364.7" r="2.75"/>
<circle cx="512.6" cy="363.7" r="2.75"/>
<circle cx="515.4" cy="359.6" r="2.75"/>
<circle cx="518.1" cy="361.7" r="2.75"/>
<circle cx="520.8" cy="363.7" r="2.75"/>
<circle cx="523.6" cy="364.1" r="2.75"/>
<circle cx="526.3" cy="360.6" r="2.75"/>
<circle cx="529.0" cy="358.2" r="2.75"/>
<circle cx="531.7" cy="352.1" r="2.75"/>
<circle cx="534.5" cy="353.5" r="2.75"/>
<circle cx="537.2" cy="356.2" r="2.75"/>
</g>
<text x="330.4" y="240.6" font-size="10.65" font-weight="bold" style="word-spacing:1.8px">Random 2</text>
<text x="428" y="417.6" font-size="10.3" text-anchor="middle">Position</text>
</g></svg></body></html>
